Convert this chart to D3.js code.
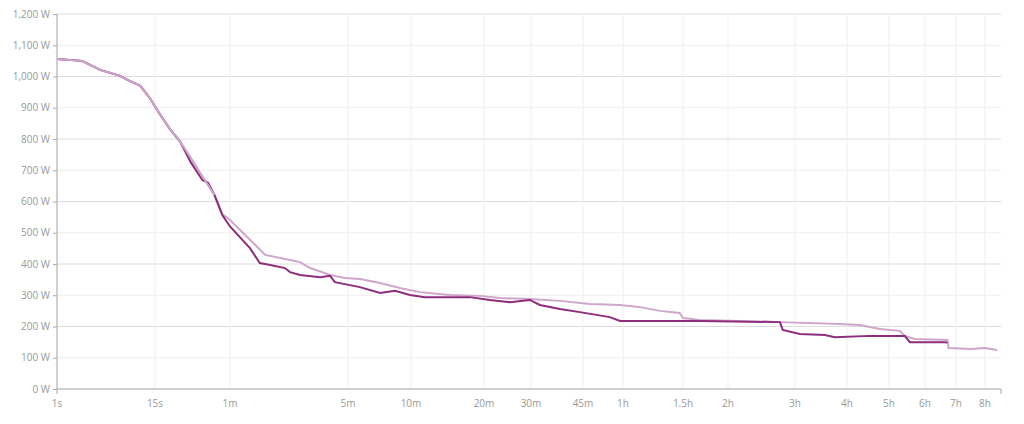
<!DOCTYPE html><html><head><meta charset="utf-8"><script src="https://cdn.jsdelivr.net/npm/d3@7"></script>
<style>body{margin:0;background:#fff;font-family:"Open Sans",sans-serif}</style></head><body><svg id="c" width="1024" height="424"></svg>
<script>
const tickSeconds=[1,15,60,300,600,1200,1800,2700,3600,5400,7200,10800,14400,18000,21600,25200,28800];
const tickLabels=["1s","15s","1m","5m","10m","20m","30m","45m","1h","1.5h","2h","3h","4h","5h","6h","7h","8h"];
const yTicks=[0,100,200,300,400,500,600,700,800,900,1000,1100,1200];
const darkSeries=[[1,1056],[2,1050],[3.3,1021],[5.7,1002],[7,989],[10,970],[13,931],[16,886],[20,829],[24,790],[29,726],[36,669],[40,660],[45,621],[52,557],[60,520],[79,450],[90,403],[104,397],[127,387],[136,374],[156,365],[205,358],[235,362],[251,342],[342,326],[427,307],[503,314],[593,301],[685,294],[1050,294],[1262,285],[1500,278],[1782,285],[1929,269],[2254,256],[2636,246],[3274,230],[3525,218],[4313,218],[6012,218],[9862,214],[10025,189],[11090,176],[12740,173],[13460,166],[16260,170],[19500,170],[20000,150],[23820,150],[24150,148]];
const lightSeries=[[1,1056],[2,1050],[3.3,1021],[5.7,1002],[7,989],[10,970],[13,931],[16,886],[20,829],[24,790],[29,740],[36,680],[40,653],[45,621],[52,560],[60,541],[79,477],[97,429],[136,413],[156,406],[179,387],[235,365],[288,355],[342,352],[427,339],[531,323],[653,310],[869,301],[1155,298],[1377,291],[1782,288],[2254,282],[2838,272],[3525,269],[4036,262],[4621,250],[5279,243],[5400,227],[6012,221],[7738,218],[9862,214],[13830,208],[15430,205],[17140,192],[19010,186],[19500,170],[20510,160],[24150,157],[24290,131],[26980,128],[28800,131],[30830,125]];
const tickPx=[57,155,230,348,411,484,531,583,623,683,728,795,847,889,925,956,985];
const svg=d3.select("#c");
const L=57,R=1001,T=14,B=389;
const x=d3.scaleLinear().domain(tickSeconds.map(Math.log).concat([Math.log(31500)])).range(tickPx.concat([R])).clamp(true);
const X=s=>x(Math.log(s));
const y=d3.scaleLinear().domain([0,1200]).range([B,T]);
const g=svg.append("g");
yTicks.forEach(v=>{g.append("line").attr("x1",L).attr("x2",R).attr("y1",y(v)).attr("y2",y(v)).attr("stroke",v%200===0&&v>0?"#dcdcdc":"#efefef");});
tickSeconds.forEach(s=>{g.append("line").attr("x1",X(s)).attr("x2",X(s)).attr("y1",T).attr("y2",B).attr("stroke","#efefef");});
g.append("line").attr("x1",L).attr("x2",R).attr("y1",B).attr("y2",B).attr("stroke","#aaa");
g.append("line").attr("x1",R).attr("x2",R).attr("y1",B).attr("y2",B+5).attr("stroke","#aaa");
g.append("line").attr("x1",L).attr("x2",L).attr("y1",T).attr("y2",B+5).attr("stroke","#aaa");
const yAx=svg.append("g").attr("transform",`translate(${L},0)`).call(d3.axisLeft(y).tickValues(yTicks).tickSize(4).tickFormat(v=>d3.format(",")(v)+" W"));
yAx.select(".domain").remove();
yAx.selectAll("line").attr("stroke","#aaa");
yAx.selectAll("text").attr("fill","#999").style("font-size","10px").attr("font-family","Open Sans");
tickSeconds.forEach((s,i)=>svg.append("text").attr("x",X(s)).attr("y",B+18).attr("text-anchor","middle").attr("fill","#999").style("font-size","10px").text(tickLabels[i]));
const line=d3.line().x(d=>X(d[0])).y(d=>y(d[1]));
svg.append("path").datum(lightSeries).attr("d",line).attr("fill","none").attr("stroke","#cfa6cb").attr("stroke-width",2);
svg.append("path").datum(darkSeries).attr("d",line).attr("fill","none").attr("stroke","#8e2d7c").attr("stroke-width",2);
svg.append("path").datum(lightSeries.filter(d=>d[0]<=45)).attr("d",line).attr("fill","none").attr("stroke","#cfa6cb").attr("stroke-width",2);
</script></body></html>
